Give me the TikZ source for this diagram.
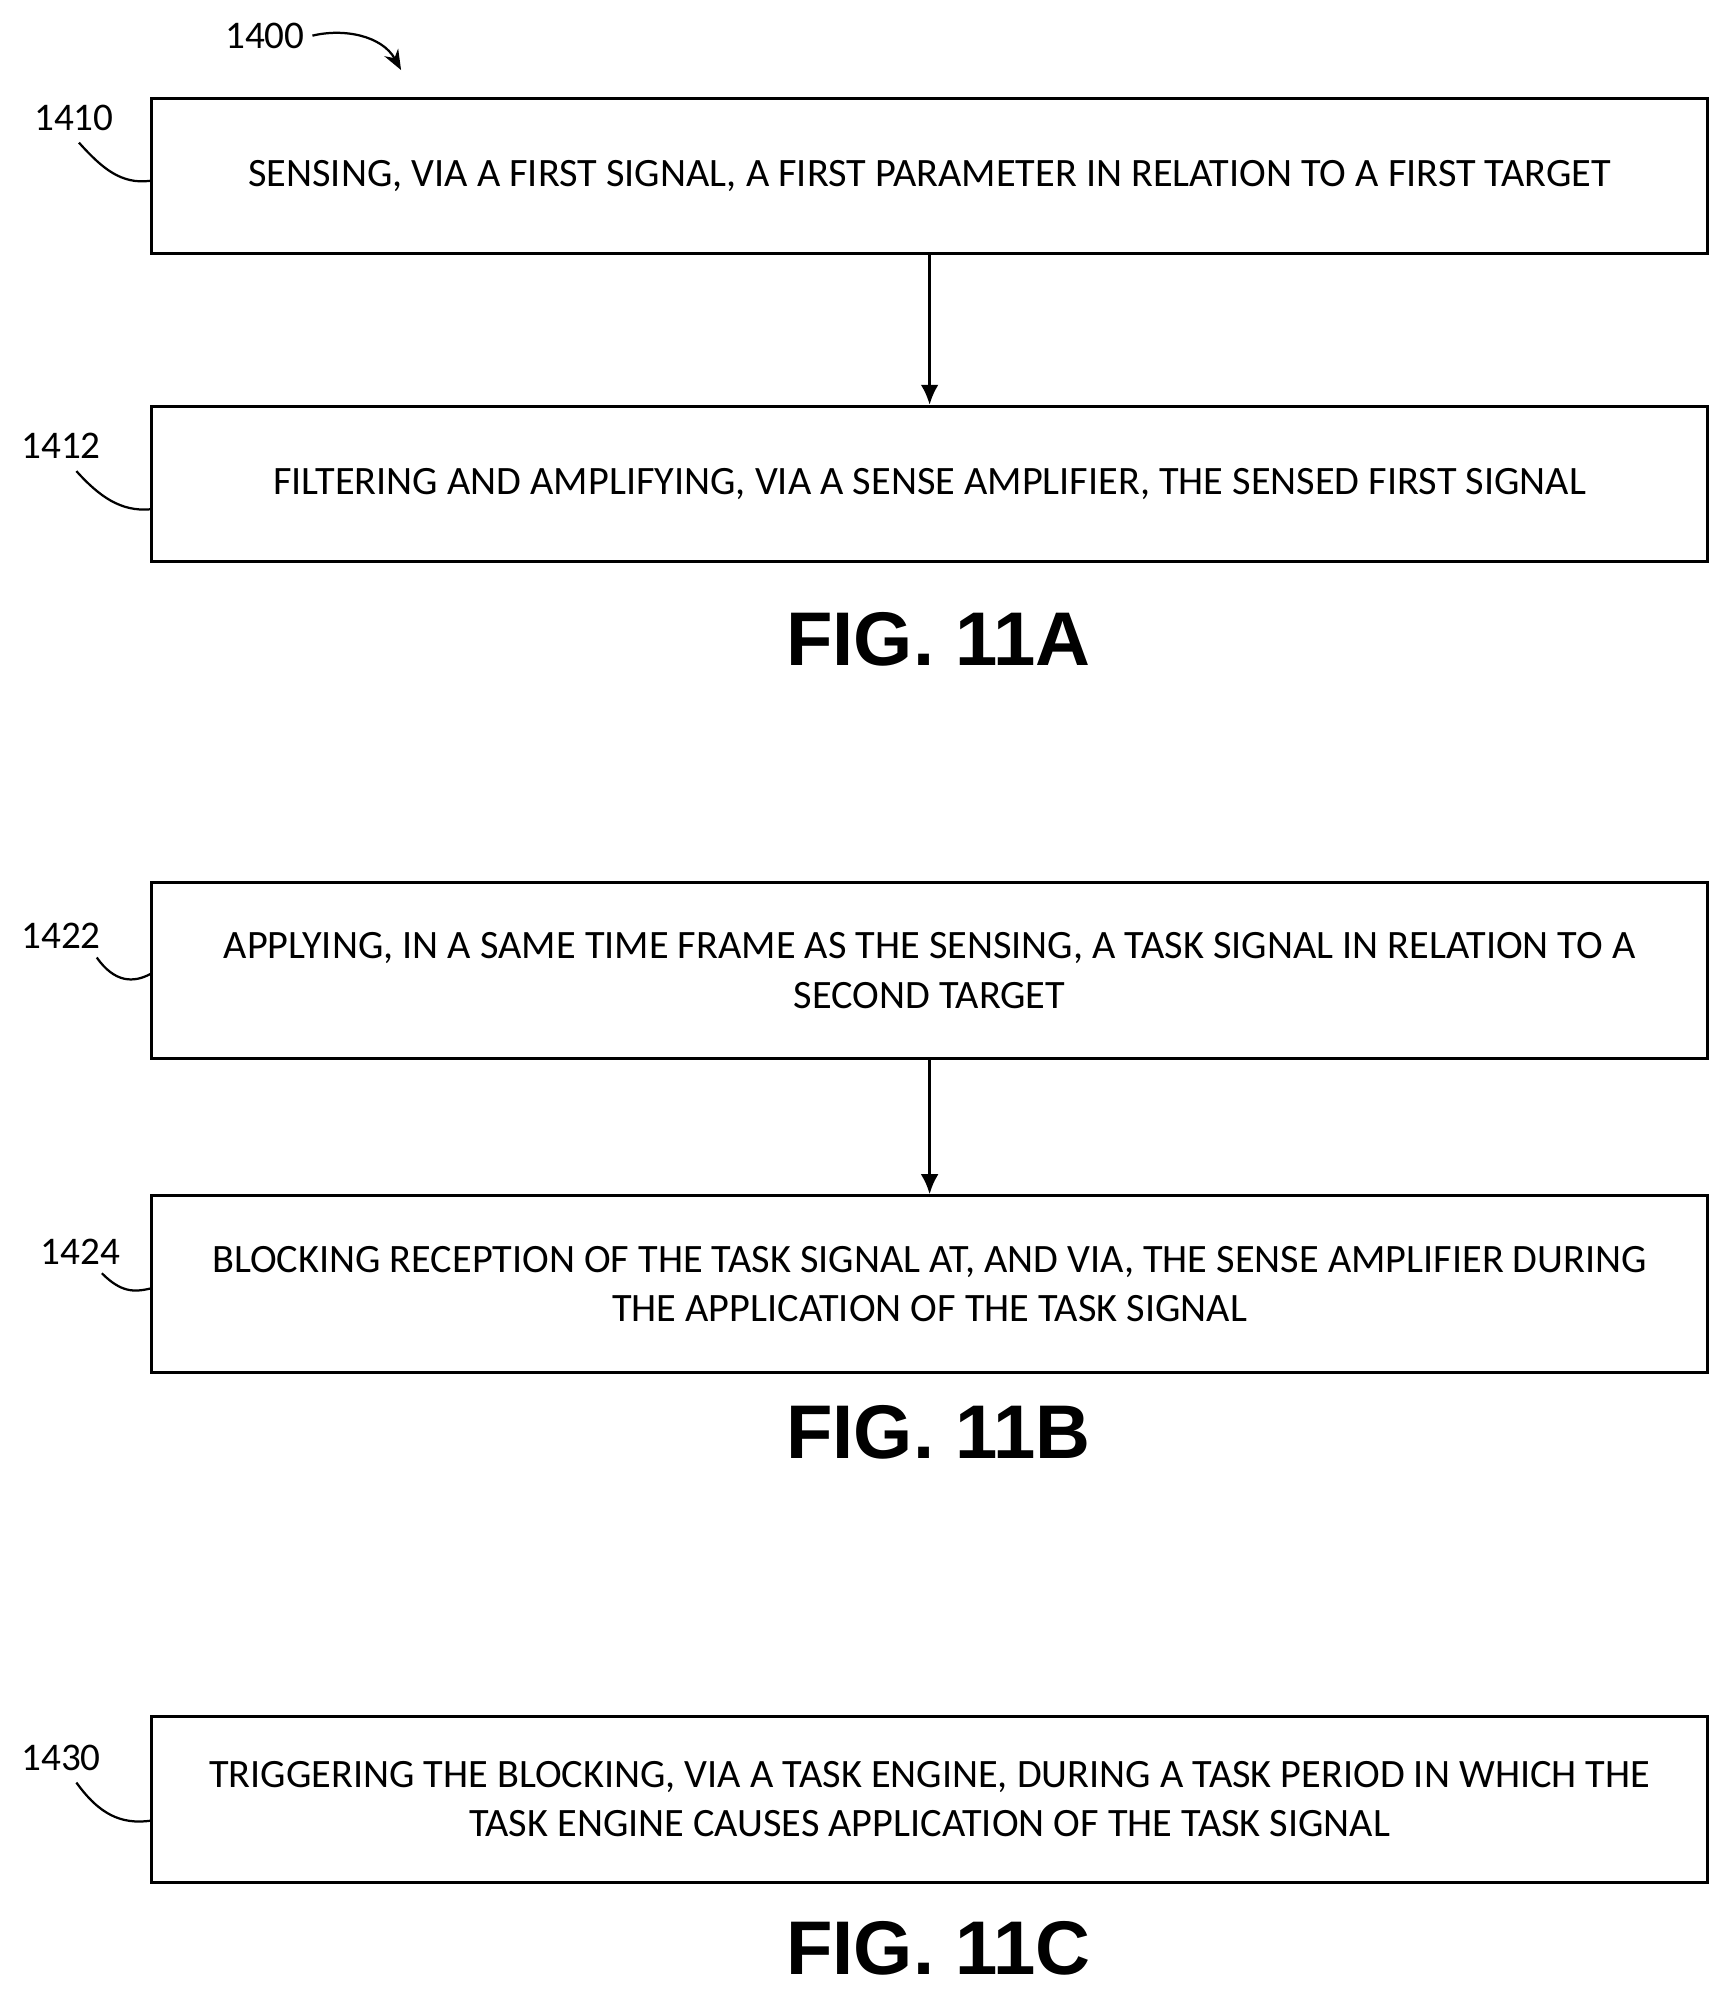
\documentclass[tikz,border=0pt]{standalone}
\usetikzlibrary{arrows.meta}
\usepackage{fontspec}
\setmainfont{Carlito}
\newfontfamily\figfont{Liberation Sans}
\begin{document}
\begin{tikzpicture}[x=0.02cm,y=-0.02cm,
 box/.style={draw,line width=1.4pt,minimum width=24.44cm,anchor=north west,inner sep=0pt,align=center,font=\fontsize{18}{22}\selectfont},
 lab/.style={font=\fontsize{17.5}{20}\selectfont},
 fig/.style={font=\figfont\bfseries\fontsize{34}{36}\selectfont},
 arr/.style={-{Latex[length=9pt,width=8pt]},line width=1.4pt},
 squig/.style={line width=1pt}]
\useasboundingbox (0,0) rectangle (1360,1570);
\node[box,minimum height=2.44cm] (b1) at (118,76) {SENSING, VIA A FIRST SIGNAL, A FIRST PARAMETER IN RELATION TO A FIRST TARGET};
\node[box,minimum height=2.44cm] (b2) at (118,318) {FILTERING AND AMPLIFYING, VIA A SENSE AMPLIFIER, THE SENSED FIRST SIGNAL};
\node[box,minimum height=2.76cm] (b3) at (118,692) {APPLYING, IN A SAME TIME FRAME AS THE SENSING, A TASK SIGNAL IN RELATION TO A\\SECOND TARGET};
\node[box,minimum height=2.78cm] (b4) at (118,938) {BLOCKING RECEPTION OF THE TASK SIGNAL AT, AND VIA, THE SENSE AMPLIFIER DURING\\THE APPLICATION OF THE TASK SIGNAL};
\node[box,minimum height=2.6cm] (b5) at (118,1347) {TRIGGERING THE BLOCKING, VIA A TASK ENGINE, DURING A TASK PERIOD IN WHICH THE\\TASK ENGINE CAUSES APPLICATION OF THE TASK SIGNAL};
\draw[arr] (b1.south) -- (b2.north);
\draw[arr] (b3.south) -- (b4.north);
\node[lab] (l0) at (208,28) {1400};
\node[lab] (l1) at (58,93) {1410};
\node[lab] (l2) at (48,350) {1412};
\node[lab] (l3) at (48,735) {1422};
\node[lab] (l4) at (63,983) {1424};
\node[lab] (l5) at (48,1381) {1430};
\coordinate (e0) at (315,55);
\draw[squig,-{Stealth[length=9pt,width=7pt]}] (l0.east) .. controls (270,22) and (300,28) .. (e0);
\draw[squig] (62,112) .. controls (80,132) and (95,145) .. (b1.west |- 0,142);
\draw[squig] (60,370) .. controls (78,390) and (95,402) .. (b2.west |- 0,400);
\draw[squig] (76,752) .. controls (90,772) and (105,772) .. (b3.west |- 0,765);
\draw[squig] (80,1000) .. controls (95,1015) and (105,1015) .. (b4.west |- 0,1012);
\draw[squig] (60,1400) .. controls (78,1425) and (95,1433) .. (b5.west |- 0,1430);
\node[fig] (f1) at (737,502) {FIG. 11A};
\node[fig] (f2) at (737,1125) {FIG. 11B};
\node[fig] (f3) at (737,1530) {FIG. 11C};
\end{tikzpicture}
\end{document}
